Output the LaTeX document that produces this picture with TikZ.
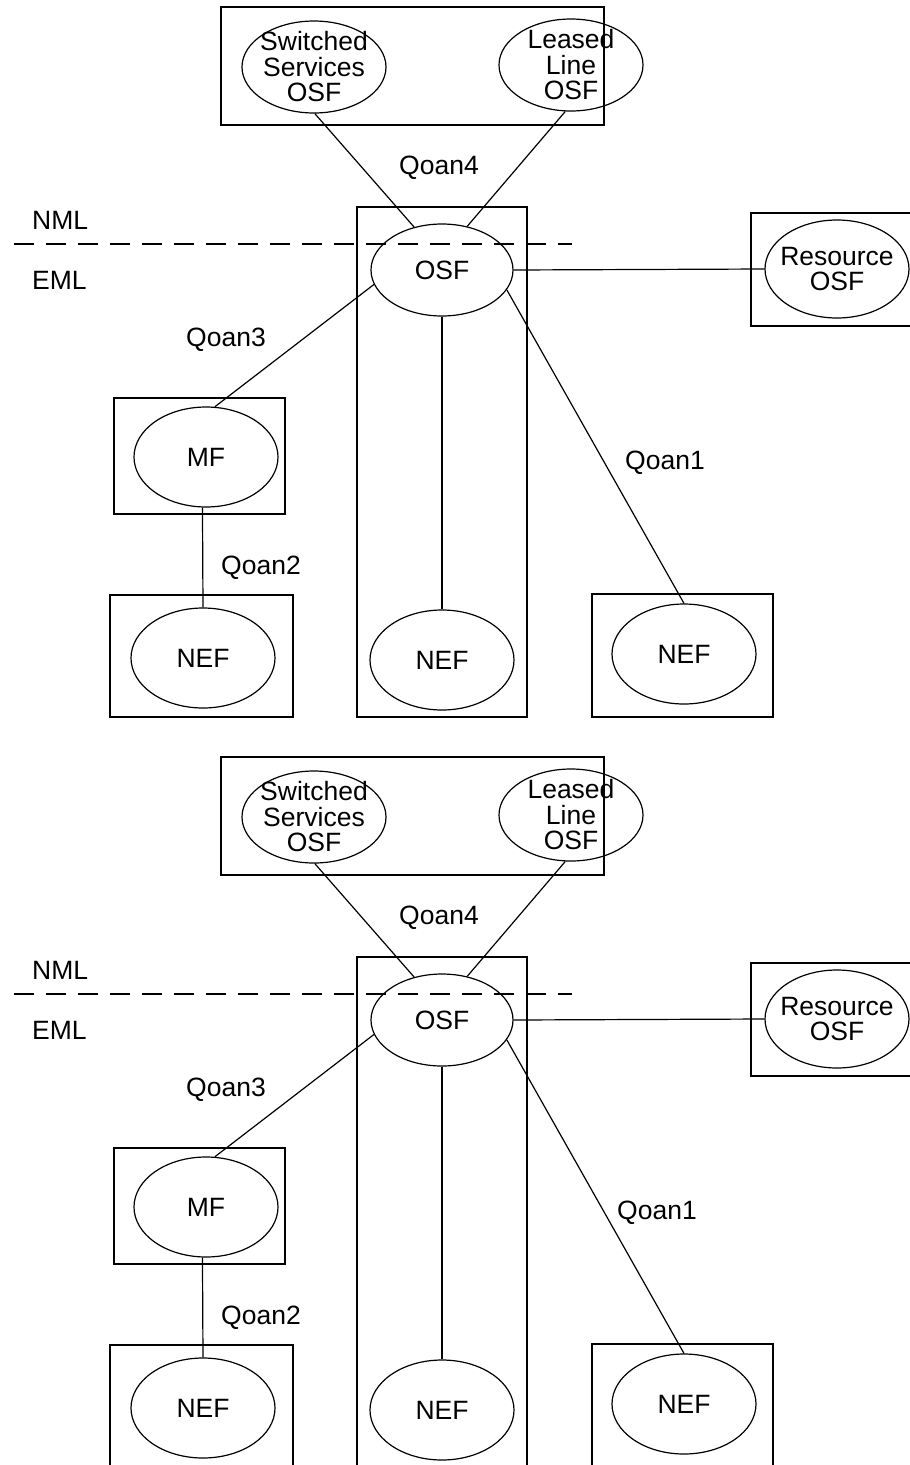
\documentclass[tikz,border=0pt]{standalone}
\usepackage{fontspec}
\setmainfont{Liberation Sans}
\usetikzlibrary{shapes.geometric}
\tikzset{
  boxst/.style={draw, line width=2.6pt},
  ell/.style={draw, ellipse, line width=1.2pt, inner sep=0pt, minimum width=144pt, minimum height=92pt},
  lbl/.style={align=center, inner sep=0pt},
  txt/.style={inner sep=0pt},
  conn/.style={line width=1.2pt},
  dashline/.style={line width=2pt, dash pattern=on 20pt off 12pt}
}
\newcommand\qoandiagram[1]{%
  \draw[boxst] (221,7) rectangle (604,125);
  \draw[boxst] (357,207) rectangle (527,717);
  \draw[boxst] (751,213) rectangle (913,326);
  \draw[boxst] (114,398) rectangle (285,514);
  \draw[boxst] (110,595) rectangle (293,717);
  \draw[boxst] (592,594) rectangle (773,717);
  \node[ell, label={[lbl]center:{Switched\\Services\\OSF}}] (ss) at (314,67) {};
  \node[ell, label={[lbl]center:{Leased\\Line\\OSF}}] (ll) at (571,65) {};
  \node[ell, minimum width=142pt, label={[lbl]center:{OSF}}] (osf) at (442,270) {};
  \node[ell, minimum height=98pt, label={[lbl]center:{Resource\\OSF}}] (res) at (837,269) {};
  \node[ell, minimum height=100pt, label={[lbl]center:{MF}}] (mf) at (206,457) {};
  \node[ell, minimum height=100pt, label={[lbl]center:{NEF}}] (nefa) at (203,658) {};
  \node[ell, minimum height=100pt, label={[lbl]center:{NEF}}] (nefb) at (442,660) {};
  \node[ell, minimum height=100pt, label={[lbl]center:{NEF}}] (nefc) at (684,654) {};
  \coordinate (dl) at (14,244);
  \coordinate (dr) at (572,244);
  \draw[dashline] (dl) -- (dr);
  \node[txt, anchor=west] (nml) at (32,220) {NML};
  \node[txt, anchor=west] (eml) at (32,280) {EML};
  \node[txt] (q4) at (439,168) {Qoan4};
  \node[txt] (q3) at (226,340) {Qoan3};
  \node[txt] (q2) at (261,568) {Qoan2};
  \node[txt] (q1) at (#1,463) {Qoan1};
  \draw[conn] (ss.271) -- (osf.123);
  \draw[conn] (ll.263) -- (osf.60);
  \draw[conn] (osf.east) -- (res.west);
  \draw[conn] (osf.192) -- (mf.80);
  \draw[conn] (osf.south) -- (nefb.north);
  \draw[conn] (osf.343) -- (nefc.north);
  \draw[conn] (mf.266) -- (nefa.north);
}
\begin{document}
\begin{tikzpicture}[x=1pt, y=-1pt, font=\fontsize{26.5}{25.5}\selectfont]
  \useasboundingbox (0,0) rectangle (910,1465);
  \clip (0,0) rectangle (910,1465);
  \begin{scope}[name prefix=t-]
    \qoandiagram{665}
  \end{scope}
  \begin{scope}[yshift=-750pt, name prefix=b-]
    \qoandiagram{657}
  \end{scope}
\end{tikzpicture}
\end{document}
